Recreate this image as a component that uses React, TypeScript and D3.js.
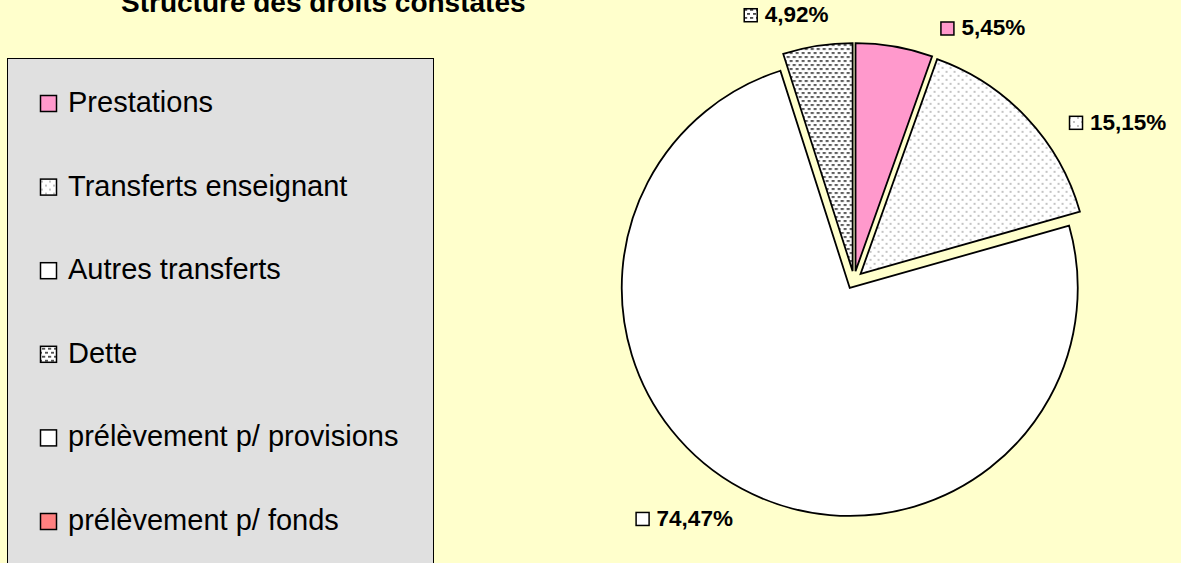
import * as d3 from "d3";
import React, { useEffect, useRef } from "react";

const title = "Structure des droits constatés";

const categories = [
  "Prestations",
  "Transferts enseignant",
  "Autres transferts",
  "Dette",
  "prélèvement p/ provisions",
  "prélèvement p/ fonds",
];
const shares = [5.45, 15.15, 74.47, 4.92, 0, 0];

// fills, one per category
const fills = ["#FF99CC", "url(#dotsLight)", "#FFFFFF", "url(#dotsDense)", "#FFFFFF", "#FF8080"];
// small angular nudges (degrees) Excel applied to the data labels
const labelNudgeDeg = [9.4, 7, -1.3, 3.5, 0, 0];

const W = 1181;
const H = 563;
const FONT = "'Liberation Sans', Arial, Helvetica, sans-serif";

const App: React.FC = () => {
  const svgRef = useRef<SVGSVGElement>(null);

  useEffect(() => {
    document.body.style.margin = "0";
    if (!svgRef.current) return;
    const svg = d3.select(svgRef.current);
    svg.selectAll("*").remove();

    // patterns
    const defs = svg.append("defs");
    const light = defs
      .append("pattern")
      .attr("id", "dotsLight")
      .attr("patternUnits", "userSpaceOnUse")
      .attr("width", 8)
      .attr("height", 8);
    light.append("rect").attr("width", 8).attr("height", 8).attr("fill", "#fff");
    light.append("circle").attr("cx", 2).attr("cy", 2).attr("r", 0.9).attr("fill", "#A8A8A8");
    light.append("circle").attr("cx", 6).attr("cy", 6).attr("r", 0.9).attr("fill", "#A8A8A8");

    const dense = defs
      .append("pattern")
      .attr("id", "dotsDense")
      .attr("patternUnits", "userSpaceOnUse")
      .attr("width", 6)
      .attr("height", 8);
    dense.append("rect").attr("width", 6).attr("height", 8).attr("fill", "#fff");
    dense.append("rect").attr("x", 0).attr("y", 1).attr("width", 3.2).attr("height", 1.8).attr("fill", "#4A4A4A");
    dense.append("rect").attr("x", 3).attr("y", 5).attr("width", 3.2).attr("height", 1.8).attr("fill", "#4A4A4A");

    // background
    svg.append("rect").attr("width", W).attr("height", H).attr("fill", "#FFFFCC");

    // title (clipped at the top in the original)
    svg
      .append("text")
      .attr("x", 121)
      .attr("y", 12)
      .attr("font-family", FONT)
      .attr("font-weight", "bold")
      .attr("font-size", 28)
      .attr("fill", "#000")
      .text(title);

    // legend
    svg
      .append("rect")
      .attr("x", 7.5)
      .attr("y", 58.5)
      .attr("width", 426)
      .attr("height", 520)
      .attr("fill", "#E0E0E0")
      .attr("stroke", "#000")
      .attr("stroke-width", 1);

    const legend = svg
      .selectAll("g.legend")
      .data(categories)
      .enter()
      .append("g")
      .attr("class", "legend")
      .attr("transform", (_, i) => `translate(0,${112 + i * 83.6})`);
    legend
      .append("rect")
      .attr("x", 40.5)
      .attr("y", -16.5)
      .attr("width", 16)
      .attr("height", 16)
      .attr("fill", (_, i) => fills[i])
      .attr("stroke", "#000")
      .attr("stroke-width", 1.5);
    legend
      .append("text")
      .attr("x", 68)
      .attr("y", 0)
      .attr("font-family", FONT)
      .attr("font-size", 29)
      .attr("fill", "#000")
      .text((d) => d);

    // pie
    const cx = 854;
    const cy = 280;
    const r = 228;
    const explode = 9;
    const labelR = 258;

    const arcs = d3
      .pie<number>()
      .sort(null)
      .value((d) => d)(shares)
      .filter((a) => a.value > 0);
    const arcGen = d3.arc<d3.PieArcDatum<number>>().innerRadius(0).outerRadius(r);
    const fmt = d3.format(".2f");

    const slices = svg
      .selectAll("g.slice")
      .data(arcs)
      .enter()
      .append("g")
      .attr("class", "slice")
      .attr("transform", (a) => {
        const mid = (a.startAngle + a.endAngle) / 2;
        return `translate(${cx + explode * Math.sin(mid)},${cy - explode * Math.cos(mid)})`;
      });
    slices
      .append("path")
      .attr("d", arcGen)
      .attr("fill", (a) => fills[a.index])
      .attr("stroke", "#000")
      .attr("stroke-width", 1.8)
      .attr("stroke-linejoin", "miter");

    // data labels
    arcs.forEach((a) => {
      const mid = (a.startAngle + a.endAngle) / 2;
      const sx = cx + explode * Math.sin(mid);
      const sy = cy - explode * Math.cos(mid);
      const ang = mid + (labelNudgeDeg[a.index] * Math.PI) / 180;
      const px = sx + labelR * Math.sin(ang);
      const base = sy - labelR * Math.cos(ang) + 8;
      const label = fmt(a.value).replace(".", ",") + "%";
      const g = svg.append("g");
      const t = g
        .append("text")
        .attr("y", base)
        .attr("font-family", FONT)
        .attr("font-weight", "bold")
        .attr("font-size", 22.5)
        .attr("fill", "#000")
        .text(label);
      let mx: number;
      if (Math.sin(ang) >= 0) {
        mx = px;
        t.attr("x", px + 21).attr("text-anchor", "start");
      } else {
        const len = (t.node() as SVGTextElement).getComputedTextLength();
        t.attr("x", px).attr("text-anchor", "end");
        mx = px - len - 21;
      }
      g.append("rect")
        .attr("x", mx + 0.5)
        .attr("y", base - 13.5)
        .attr("width", 13)
        .attr("height", 13)
        .attr("fill", fills[a.index])
        .attr("stroke", "#000")
        .attr("stroke-width", 1.5);
    });
  }, []);

  return <svg ref={svgRef} width={W} height={H} style={{ display: "block" }} />;
};

export default App;
